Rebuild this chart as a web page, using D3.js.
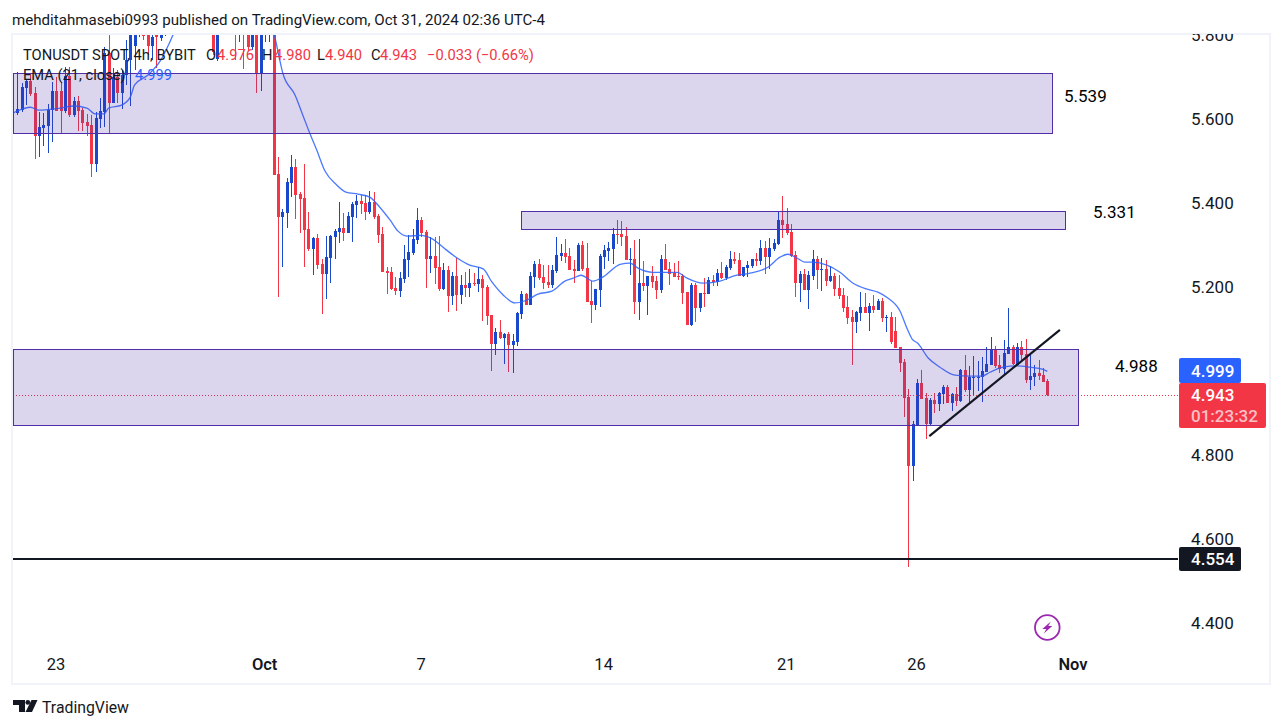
<!DOCTYPE html>
<html><head><meta charset="utf-8">
<script src="https://d3js.org/d3.v7.min.js"></script>
<style>
html,body{margin:0;padding:0;background:#fff;overflow:hidden}
text{font-family:Roboto,"Noto Sans",sans-serif}
</style></head><body><svg id="c" width="1283" height="728"></svg>
<script>
const title="mehditahmasebi0993 published on TradingView.com, Oct 31, 2024 02:36 UTC-4";
const symbol="TONUSDT SPOT, 4h, BYBIT";
const emaName="EMA (21, close)";
const opens=[5.614,5.621,5.673,5.690,5.662,5.559,5.578,5.583,5.621,5.666,5.666,5.619,5.702,5.609,5.643,5.621,5.593,5.585,5.493,5.600,
5.616,5.757,5.638,5.700,5.662,5.704,5.740,5.773,5.800,5.823,5.823,5.773,5.812,5.793,5.800,5.804,5.83,5.86,5.90,5.88,
5.91,5.96,5.94,5.92,5.89,5.823,5.743,5.82,5.85,5.87,5.90,5.84,5.88,5.82,5.771,5.83,5.709,5.84,5.85,5.87,
5.469,5.366,5.376,5.447,5.485,5.421,5.412,5.338,5.290,5.316,5.254,5.231,5.269,5.319,5.331,5.340,5.328,5.366,5.395,5.404,
5.400,5.378,5.402,5.369,5.326,5.238,5.235,5.197,5.190,5.219,5.264,5.281,5.312,5.359,5.331,5.266,5.273,5.247,5.195,5.240,
5.178,5.226,5.181,5.204,5.197,5.209,5.207,5.219,5.200,5.133,5.064,5.093,5.078,5.088,5.062,5.069,5.135,5.183,5.157,5.224,
5.254,5.224,5.212,5.204,5.238,5.273,5.281,5.273,5.243,5.238,5.300,5.245,5.166,5.157,5.193,5.271,5.285,5.290,5.326,5.326,
5.321,5.264,5.266,5.164,5.209,5.202,5.226,5.214,5.193,5.266,5.243,5.233,5.226,5.226,5.188,5.109,5.204,5.150,5.185,5.183,
5.216,5.212,5.233,5.221,5.245,5.266,5.264,5.226,5.245,5.250,5.266,5.262,5.293,5.271,5.290,5.302,5.359,5.350,5.331,5.276,
5.209,5.231,5.193,5.226,5.266,5.240,5.243,5.214,5.226,5.197,5.181,5.152,5.128,5.116,5.138,5.152,5.138,5.154,5.145,5.166,
5.126,5.128,5.095,5.057,5.021,4.938,4.773,4.871,4.971,4.935,4.874,4.931,4.921,4.945,4.962,4.923,4.945,4.928,5.002,4.955,
4.983,4.983,4.985,4.997,5.014,5.050,5.014,5.004,5.040,5.057,5.014,5.057,5.040,4.978,4.985,4.995,4.990,4.976];
const highs=[5.712,5.685,5.695,5.707,5.676,5.616,5.614,5.635,5.688,5.700,5.688,5.723,5.723,5.652,5.654,5.626,5.612,5.609,5.616,5.650,
5.771,5.804,5.721,5.716,5.716,5.788,5.835,5.835,5.859,5.847,5.847,5.823,5.835,5.812,5.812,5.84,5.88,5.92,5.95,5.93,
5.98,6.00,5.97,5.96,5.93,5.85,5.85,5.87,5.90,5.91,5.93,5.90,5.92,5.87,5.86,5.88,5.87,5.88,5.89,5.92,
5.509,5.385,5.459,5.514,5.504,5.426,5.493,5.378,5.319,5.326,5.266,5.321,5.323,5.338,5.402,5.376,5.378,5.402,5.419,5.419,
5.419,5.428,5.426,5.373,5.343,5.247,5.247,5.224,5.235,5.300,5.323,5.338,5.388,5.366,5.335,5.319,5.319,5.321,5.257,5.250,
5.235,5.269,5.228,5.235,5.243,5.233,5.247,5.228,5.204,5.133,5.102,5.121,5.090,5.093,5.088,5.140,5.190,5.185,5.235,5.262,
5.266,5.252,5.252,5.252,5.319,5.302,5.314,5.293,5.264,5.304,5.309,5.304,5.214,5.195,5.278,5.300,5.307,5.340,5.359,5.357,
5.343,5.293,5.312,5.314,5.262,5.226,5.250,5.226,5.276,5.302,5.259,5.257,5.262,5.231,5.188,5.209,5.209,5.185,5.221,5.224,
5.228,5.243,5.259,5.252,5.285,5.283,5.281,5.247,5.262,5.266,5.281,5.312,5.309,5.316,5.314,5.378,5.416,5.388,5.350,5.285,
5.238,5.243,5.238,5.288,5.273,5.269,5.264,5.250,5.233,5.228,5.197,5.178,5.145,5.143,5.188,5.185,5.162,5.181,5.171,5.174,
5.133,5.140,5.128,5.057,5.028,4.957,4.881,4.981,5.002,4.947,4.935,4.947,4.950,4.966,4.966,4.947,4.962,5.004,5.038,5.012,
5.035,5.023,5.033,5.057,5.081,5.059,5.038,5.074,5.150,5.062,5.066,5.071,5.076,5.038,5.014,5.026,5.007,4.980];
const lows=[5.609,5.616,5.633,5.654,5.504,5.509,5.535,5.519,5.545,5.619,5.564,5.614,5.604,5.604,5.571,5.571,5.559,5.462,5.473,5.578,
5.581,5.564,5.638,5.638,5.623,5.681,5.631,5.716,5.795,5.788,5.752,5.740,5.721,5.785,5.797,5.80,5.81,5.84,5.87,5.85,
5.89,5.92,5.90,5.87,5.85,5.752,5.738,5.81,5.82,5.83,5.74,5.783,5.719,5.764,5.764,5.662,5.666,5.783,5.783,5.466,
5.176,5.247,5.340,5.414,5.362,5.328,5.247,5.285,5.228,5.243,5.135,5.171,5.209,5.266,5.304,5.309,5.328,5.307,5.364,5.373,
5.359,5.373,5.362,5.304,5.235,5.183,5.193,5.181,5.176,5.209,5.224,5.276,5.302,5.319,5.197,5.233,5.207,5.190,5.193,5.140,
5.157,5.143,5.159,5.176,5.176,5.202,5.188,5.119,5.109,5.000,5.038,5.076,5.016,4.997,4.995,5.059,5.123,5.157,5.157,5.197,
5.216,5.195,5.197,5.197,5.233,5.262,5.257,5.240,5.209,5.238,5.238,5.164,5.114,5.145,5.152,5.243,5.262,5.254,5.302,5.297,
5.264,5.228,5.135,5.121,5.190,5.133,5.197,5.171,5.185,5.240,5.204,5.224,5.216,5.159,5.109,5.107,5.116,5.140,5.152,5.183,
5.202,5.202,5.219,5.216,5.240,5.254,5.226,5.224,5.224,5.245,5.250,5.252,5.231,5.243,5.285,5.300,5.316,5.323,5.271,5.176,
5.164,5.193,5.147,5.216,5.195,5.190,5.202,5.212,5.178,5.171,5.140,5.112,5.014,5.090,5.119,5.138,5.095,5.138,5.145,5.116,
5.093,5.064,5.054,4.997,4.890,4.533,4.738,4.871,4.933,4.838,4.869,4.900,4.904,4.921,4.923,4.904,4.916,4.926,4.950,4.926,
4.940,4.952,4.926,4.997,5.014,5.007,4.995,4.990,5.040,5.014,5.012,5.026,4.971,4.955,4.964,4.978,4.974,4.940];
const closes=[5.623,5.676,5.690,5.659,5.559,5.581,5.585,5.621,5.666,5.619,5.619,5.702,5.609,5.643,5.619,5.590,5.583,5.493,5.602,5.619,
5.757,5.638,5.700,5.662,5.704,5.740,5.816,5.816,5.835,5.797,5.773,5.795,5.795,5.800,5.804,5.83,5.86,5.90,5.88,5.91,
5.96,5.94,5.92,5.89,5.86,5.759,5.82,5.85,5.87,5.88,5.84,5.88,5.82,5.771,5.83,5.709,5.84,5.86,5.87,5.466,
5.366,5.378,5.450,5.485,5.419,5.409,5.335,5.290,5.316,5.252,5.231,5.271,5.321,5.333,5.340,5.328,5.369,5.397,5.404,5.397,
5.378,5.402,5.366,5.323,5.235,5.233,5.195,5.190,5.221,5.266,5.283,5.314,5.359,5.328,5.266,5.273,5.245,5.195,5.240,5.178,
5.226,5.181,5.204,5.197,5.209,5.207,5.219,5.197,5.131,5.064,5.093,5.078,5.088,5.062,5.071,5.138,5.183,5.157,5.226,5.254,
5.221,5.209,5.204,5.240,5.276,5.281,5.271,5.240,5.238,5.300,5.243,5.164,5.157,5.195,5.273,5.288,5.293,5.326,5.323,5.319,
5.264,5.266,5.164,5.209,5.202,5.226,5.212,5.193,5.266,5.240,5.231,5.224,5.224,5.185,5.109,5.204,5.150,5.185,5.183,5.216,
5.212,5.233,5.221,5.247,5.266,5.262,5.226,5.247,5.252,5.266,5.262,5.293,5.271,5.293,5.304,5.359,5.347,5.328,5.273,5.209,
5.231,5.193,5.228,5.266,5.240,5.243,5.214,5.226,5.195,5.178,5.150,5.126,5.116,5.140,5.152,5.138,5.154,5.145,5.166,5.126,
5.128,5.069,5.054,5.019,4.935,4.773,4.874,4.971,4.933,4.874,4.931,4.921,4.947,4.962,4.923,4.945,4.928,5.002,4.955,4.985,
4.985,4.985,5.000,5.016,5.050,5.012,5.004,5.043,5.057,5.016,5.057,5.038,4.978,4.988,4.995,4.988,4.974,4.943];
const emaIndex=[-1,0,3,5,10,13,16,18,20,21,24,26,27,30,33,35,36,40,50,56,59.3,60.4,61.1,63.9,65.7,67.3,68.9,70.8,73.5,75.6,78.4,81.1,83.4,85.8,87.6,89.9,92.7,95.6,97.9,101.2,104.1,107.2,109.2,111.8,114.5,117.3,119.8,123,126,127.9,129.7,132.5,134.8,138.7,141,142.8,146.3,151.8,154.1,157.8,161.7,164.7,168.6,172.7,175.5,177.3,179.4,181.2,183,186.3,189.3,192.3,195.5,198,200.3,203.1,204.7,205.9,207.2,209.6,212.3,215.8,219.2,222,223.8,226.8,230,233,236,237];
const emaValues=[5.614,5.619,5.628,5.621,5.626,5.631,5.626,5.612,5.612,5.626,5.633,5.652,5.681,5.704,5.740,5.781,5.804,5.86,5.92,5.88,5.793,5.740,5.709,5.657,5.609,5.566,5.526,5.476,5.443,5.426,5.421,5.414,5.390,5.359,5.333,5.321,5.323,5.314,5.295,5.269,5.252,5.243,5.212,5.181,5.162,5.169,5.183,5.190,5.214,5.221,5.228,5.214,5.224,5.254,5.257,5.245,5.235,5.235,5.221,5.209,5.214,5.226,5.233,5.247,5.271,5.278,5.269,5.259,5.259,5.252,5.235,5.209,5.195,5.188,5.174,5.143,5.102,5.076,5.066,5.031,5.009,4.990,4.988,4.988,4.997,5.009,5.012,5.009,5.004,4.999];
const xTickIndex=[8.8,56.8,92.8,134.8,176.8,206.8,242.8];
const xTickLabels=["23","Oct","7","14","21","26","Nov"];
const yTicks=[4.4,4.6,4.8,5.0,5.2,5.4,5.6,5.8];
const zoneTops=[5.707,5.379,5.050];
const zoneBottoms=[5.564,5.336,4.869];
const zoneStart=[-1,116,-1];
const zoneEnd=[238,241.07,244];
const zoneLabels=["5.539","5.331","4.988"];
const trendIndex=[209.85,239.9];
const trendValues=[4.845,5.098];
const supportLevel=4.554, lastEma=4.999, countdown="01:23:32", change="−0.033 (−0.66%)";

const W=1283,H=728;
const frame={l:13,t:35,r:1269,b:683};
const x=d3.scaleLinear().domain([0,237]).range([17.3,1047.3]);
const y=d3.scaleLinear().domain([4.4,5.8]).range([623,35]);
const UP="#1848cc",DN="#f23645",INK="#131722",ZONE="#512da8";
const svg=d3.select("#c");
const defs=svg.append("defs");
defs.append("clipPath").attr("id","plot").append("rect").attr("x",frame.l).attr("y",frame.t).attr("width",1165).attr("height",frame.b-frame.t);
defs.append("clipPath").attr("id","axisclip").append("rect").attr("x",1170).attr("y",34).attr("width",100).attr("height",640);

svg.append("rect").attr("width",W).attr("height",H).attr("fill","#fff");
svg.append("text").attr("x",12).attr("y",25).attr("font-size",15.1).attr("fill",INK).text(title);
svg.append("rect").attr("x",frame.l-1).attr("y",frame.t-1).attr("width",frame.r-frame.l+2).attr("height",frame.b-frame.t+2)
  .attr("fill","none").attr("stroke","#f0f3fa").attr("stroke-width",2);

const plot=svg.append("g").attr("clip-path","url(#plot)");
const idx=d3.range(opens.length);
const col=i=>closes[i]>=opens[i]?UP:DN;
plot.append("g").selectAll("rect").data(idx).join("rect")
  .attr("x",i=>Math.round(x(i))).attr("width",1)
  .attr("y",i=>Math.round(y(highs[i]))).attr("height",i=>Math.max(1,Math.round(y(lows[i]))-Math.round(y(highs[i]))))
  .attr("fill",col);
plot.append("g").selectAll("rect").data(idx).join("rect")
  .attr("x",i=>Math.round(x(i))-1).attr("width",3)
  .attr("y",i=>Math.round(y(Math.max(opens[i],closes[i]))))
  .attr("height",i=>Math.max(1,Math.round(y(Math.min(opens[i],closes[i])))-Math.round(y(Math.max(opens[i],closes[i])))))
  .attr("fill",col);
plot.append("path").attr("fill","none").attr("stroke","#2962ff").attr("stroke-width",1.3).attr("opacity",.85)
  .attr("d",d3.line().x((d,i)=>x(emaIndex[i])).y(d=>y(d)).curve(d3.curveMonotoneX)(emaValues));
plot.append("line").attr("x1",frame.l).attr("x2",1178).attr("y1",Math.round(y(closes[closes.length-1]))+.5).attr("y2",Math.round(y(closes[closes.length-1]))+.5)
  .attr("stroke",DN).attr("stroke-width",1).attr("stroke-dasharray","1 2");
const snap=v=>Math.round(v)+.5;
plot.append("g").selectAll("rect").data(zoneTops).join("rect")
  .attr("x",(d,i)=>snap(Math.max(frame.l,x(zoneStart[i])))).attr("width",(d,i)=>Math.round(x(zoneEnd[i])-Math.max(frame.l,x(zoneStart[i]))))
  .attr("y",d=>snap(y(d))-1).attr("height",(d,i)=>Math.round(y(zoneBottoms[i])-y(d)))
  .attr("fill","rgba(81,45,168,.2)").attr("stroke",ZONE).attr("stroke-width",1);
plot.append("line").attr("x1",frame.l).attr("x2",1178).attr("y1",y(supportLevel)+.6).attr("y2",y(supportLevel)+.6).attr("stroke",INK).attr("stroke-width",2);
plot.append("line").attr("x1",x(trendIndex[0])).attr("y1",y(trendValues[0])).attr("x2",x(trendIndex[1])).attr("y2",y(trendValues[1]))
  .attr("stroke",INK).attr("stroke-width",2.2);

// zone value notes
[[1064,96],[1093,212],[1115,366]].forEach((p,i)=>{
  svg.append("text").attr("x",p[0]).attr("y",p[1]+6).attr("font-size",17).attr("fill","#000").text(zoneLabels[i]);
});

// legend
const L=svg.append("g").attr("font-size",14.7);
const lg=(xp,yp,t,c)=>L.append("text").attr("x",xp).attr("y",yp).attr("fill",c).text(t);
const last=opens.length-1, f3=d3.format(".3f");
lg(23,59.5,symbol,INK);
lg(206,59.5,"O",INK); lg(217,59.5,f3(opens[last]),DN);
lg(262,59.5,"H",INK); lg(274,59.5,f3(highs[last]),DN);
lg(317,59.5,"L",INK); lg(325,59.5,f3(lows[last]),DN);
lg(371,59.5,"C",INK); lg(380,59.5,f3(closes[last]),DN);
lg(427,59.5,change,DN);
lg(23,80,emaName,INK); lg(135,80,f3(lastEma),"#2962ff");

// axes
const xAxis=d3.axisBottom(x).tickValues(xTickIndex).tickFormat((d,i)=>xTickLabels[i]).tickSize(0).tickPadding(0);
const gx=svg.append("g").attr("transform","translate(0,658.5)").call(xAxis);
gx.select(".domain").remove();
gx.selectAll("text").attr("font-size",16.5).attr("fill",INK).attr("font-family","Roboto,sans-serif")
  .attr("font-weight",(d,i)=>xTickLabels[i].length===3?600:400).attr("dy",".71em").attr("y",0);
const yAxis=d3.axisRight(y).tickValues(yTicks).tickFormat(f3).tickSize(0).tickPadding(0);
const gy=svg.append("g").attr("clip-path","url(#axisclip)").append("g").attr("transform","translate(1191,0)").call(yAxis);
gy.select(".domain").remove();
gy.selectAll("text").attr("font-size",17).attr("fill",INK).attr("font-family","Roboto,sans-serif").attr("x",0);

// price tags
const tag=(yt,h,w,c)=>svg.append("rect").attr("x",1179).attr("y",yt).attr("width",w).attr("height",h).attr("rx",2).attr("fill",c);
const tagText=(yb,t,c)=>svg.append("text").attr("x",1191).attr("y",yb).attr("font-size",17).attr("font-weight",500).attr("fill",c).text(t);
tag(358,25,62,"#2962ff"); tagText(376.5,f3(lastEma),"#fff");
tag(383,45,87,DN); tagText(401,f3(closes[last]),"#fff"); tagText(422,countdown,"rgba(255,255,255,.7)");
tag(547,24,62,INK); tagText(565,f3(supportLevel),"#fff");

// bolt icon
const b=svg.append("g").attr("transform","translate(1047.3,627.5)");
b.append("circle").attr("r",12.3).attr("fill","#fff").attr("stroke","#9c27b0").attr("stroke-width",1.8);
b.append("path").attr("d","M3.5,-6 L-5,1.5 L-1,1.5 L-3.5,6 L5,-1.5 L1,-1.5 Z").attr("fill","#9c27b0");

// footer logo
const logo=svg.append("g").attr("fill",INK);
logo.append("path").attr("d","M13,700 H25 V712 H19 V705 H13 Z");
logo.append("circle").attr("cx",27.8).attr("cy",702.4).attr("r",2.4);
logo.append("path").attr("d","M31.5,700 H37.5 L32,712 H25.5 Z");
svg.append("text").attr("x",42).attr("y",712.5).attr("font-size",15.8).attr("fill",INK).text("TradingView");
</script></body></html>
